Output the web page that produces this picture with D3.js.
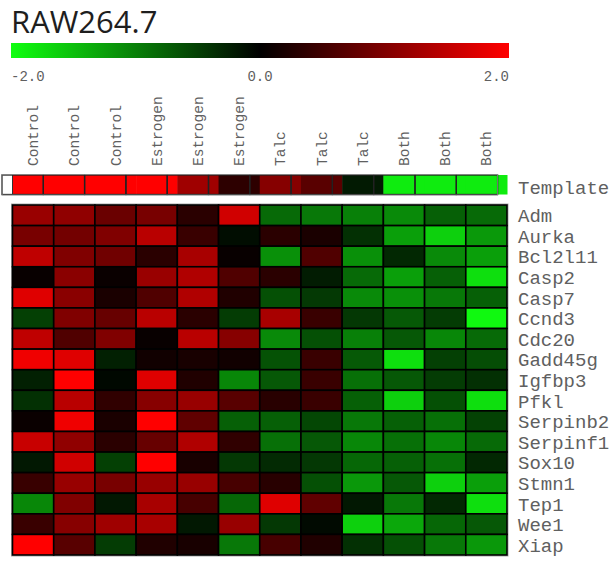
<!DOCTYPE html>
<html>
<head>
<meta charset="utf-8">
<script src="https://cdn.jsdelivr.net/npm/d3@7"></script>
<style>
  html, body { margin: 0; padding: 0; background: #fff; }
  svg { display: block; }
</style>
</head>
<body>
<svg id="chart" width="616" height="563"></svg>
<script>
// Sample groups (columns) and genes (rows)
const samples = ["Control", "Control", "Control", "Estrogen", "Estrogen", "Estrogen",
                 "Talc", "Talc", "Talc", "Both", "Both", "Both"];
const genes = ["Adm", "Aurka", "Bcl2l11", "Casp2", "Casp7", "Ccnd3", "Cdc20", "Gadd45g",
               "Igfbp3", "Pfkl", "Serpinb2", "Serpinf1", "Sox10", "Stmn1", "Tep1", "Wee1", "Xiap"];

// Template profile across the samples
const template = [2.0, 2.0, 2.0, 2.0, 1.25, 0.35, 1.05, 0.7, -0.2, -1.85, -1.85, -1.85];

// Log-ratio expression per gene (rows follow `genes`, columns follow `samples`)
const expression = [
  [1.2, 1.13, 0.83, 0.94, 0.33, 1.63, -0.83, -0.94, -1.0, -1.08, -0.75, -0.83],
  [0.94, 0.9, 1.0, 1.45, 0.45, -0.1, 0.33, 0.2, -0.38, -1.25, -1.63, -1.2],
  [1.5, 1.0, 0.88, 0.33, 1.32, 0.06, -1.13, 0.63, -1.13, -0.31, -1.08, -1.25],
  [0.06, 1.08, 0.08, 1.2, 1.38, 0.63, 0.33, -0.22, -0.83, -1.25, -0.75, -1.75],
  [1.75, 1.08, 0.2, 0.63, 1.38, 0.25, -0.63, -0.45, -1.08, -1.13, -0.94, -0.75],
  [-0.5, 1.0, 0.81, 1.45, 0.33, -0.47, 1.32, 0.45, -0.44, -0.7, -0.47, -1.95],
  [1.5, 0.63, 1.0, 0.06, 1.45, 1.06, -1.08, -0.63, -1.0, -0.69, -1.06, -0.83],
  [1.88, 1.75, -0.25, 0.13, 0.19, 0.13, -0.64, 0.45, -0.7, -1.75, -0.5, -0.6],
  [-0.25, 2.0, -0.06, 1.75, 0.25, -1.06, -0.69, 0.45, -0.88, -0.69, -0.47, -0.38],
  [-0.38, 1.45, 0.38, 1.06, 1.19, 0.69, 0.31, 0.45, -0.75, -1.63, -0.63, -1.75],
  [0.08, 1.88, 0.2, 2.0, 0.75, -0.75, -0.75, -0.56, -0.94, -0.75, -0.88, -0.52],
  [1.57, 1.13, 0.33, 0.81, 1.38, 0.38, -0.88, -0.69, -1.06, -0.88, -1.06, -0.83],
  [-0.19, 1.63, -0.5, 2.0, 0.19, -0.44, -0.33, -0.44, -0.81, -0.75, -0.88, -0.31],
  [0.44, 1.19, 0.94, 1.19, 1.19, 0.56, 0.31, -0.63, -1.19, -0.69, -1.63, -1.25],
  [-1.06, 1.0, -0.19, 1.32, 0.56, -0.81, 1.75, 0.75, -0.19, -0.94, -0.31, -1.75],
  [0.45, 1.06, 1.25, 1.32, -0.19, 1.19, -0.44, -0.08, -1.63, -1.32, -0.81, -0.69],
  [2.0, 0.69, -0.47, 0.25, 0.19, -0.94, 0.56, 0.25, -0.38, -0.63, -0.94, -1.19]
];

// Colour key
const keyDomain = [-2, 0, 2];
const keyLabels = ["-2.0", "0.0", "2.0"];
const title = "RAW264.7";
const templateLabel = "Template";

const svg = d3.select("#chart");
const mono = "'Liberation Mono', 'DejaVu Sans Mono', monospace";
const labelColor = "#606060";

const color = d3.scaleLinear()
  .domain(keyDomain)
  .range(["#10ff10", "#000000", "#ff0000"])
  .clamp(true);

const cols = d3.range(samples.length);
const x = d3.scaleBand().domain(cols).range([12.5, 507]);
const y = d3.scaleBand().domain(genes).range([205, 555]);

// Title
svg.append("text")
  .attr("x", 11).attr("y", 33)
  .attr("font-family", "'Open Sans', 'Noto Sans', sans-serif")
  .attr("font-size", 31)
  .attr("fill", "#1e1e1e")
  .text(title);

// Colour bar
const grad = svg.append("defs").append("linearGradient")
  .attr("id", "keyGrad").attr("x1", "0%").attr("x2", "100%");
keyDomain.forEach((v, i) => {
  grad.append("stop")
    .attr("offset", (i / (keyDomain.length - 1) * 100) + "%")
    .attr("stop-color", color(v));
});
const keyX = d3.scaleLinear().domain([keyDomain[0], keyDomain[2]]).range([11, 509]);
svg.append("rect")
  .attr("x", keyX(-2)).attr("y", 43)
  .attr("width", keyX(2) - keyX(-2)).attr("height", 15)
  .attr("fill", "url(#keyGrad)");
svg.append("g").selectAll("text")
  .data(keyDomain)
  .join("text")
  .attr("x", d => keyX(d))
  .attr("y", 81)
  .attr("text-anchor", (d, i) => i === 0 ? "start" : (i === keyDomain.length - 1 ? "end" : "middle"))
  .attr("font-family", mono)
  .attr("font-size", 14)
  .attr("fill", labelColor)
  .text((d, i) => keyLabels[i]);

// Column labels (vertical)
svg.append("g").selectAll("text")
  .data(cols)
  .join("text")
  .attr("transform", i => `translate(${x(i) + x.bandwidth() / 2},166) rotate(-90)`)
  .attr("dy", "0.35em")
  .attr("font-family", mono)
  .attr("font-size", 14.5)
  .attr("fill", labelColor)
  .text(i => samples[i]);

// Template strip: coloured fill per sample, outlined boxes drawn on top
const tTop = 175, tH = 19.5;
const tg = svg.append("g");
tg.selectAll("rect.fill")
  .data(cols)
  .join("rect")
  .attr("class", "fill")
  .attr("x", i => x(i))
  .attr("y", tTop)
  .attr("width", x.bandwidth() + 0.5)
  .attr("height", tH)
  .attr("fill", i => color(template[i]));
tg.append("line")
  .attr("x1", x(0)).attr("x2", x(0))
  .attr("y1", tTop).attr("y2", tTop + tH)
  .attr("stroke", "#333").attr("stroke-width", 1);
const box = d3.scaleBand().domain(cols).range([2, 497.6]);
tg.selectAll("rect.box")
  .data(cols)
  .join("rect")
  .attr("class", "box")
  .attr("x", i => box(i))
  .attr("y", tTop)
  .attr("width", box.bandwidth())
  .attr("height", tH)
  .attr("fill", "none")
  .attr("stroke", "#222")
  .attr("stroke-width", 1.3);
tg.append("rect")
  .attr("x", 2).attr("y", tTop - 0.5)
  .attr("width", 495.6).attr("height", tH + 1)
  .attr("fill", "none")
  .attr("stroke", "#888")
  .attr("stroke-width", 0.8);
svg.append("text")
  .attr("x", 518).attr("y", 194)
  .attr("font-family", mono)
  .attr("font-size", 19)
  .attr("fill", labelColor)
  .text(templateLabel);

// Heatmap
svg.append("rect")
  .attr("x", x.range()[0] - 1).attr("y", y.range()[0] - 1)
  .attr("width", x.range()[1] - x.range()[0] + 2)
  .attr("height", y.range()[1] - y.range()[0] + 2)
  .attr("fill", "none")
  .attr("stroke", "#aaa")
  .attr("stroke-width", 1);

const cells = [];
expression.forEach((row, r) => row.forEach((v, c) => cells.push({ gene: genes[r], col: c, v })));
svg.append("g").selectAll("rect")
  .data(cells)
  .join("rect")
  .attr("x", d => x(d.col))
  .attr("y", d => y(d.gene))
  .attr("width", x.bandwidth())
  .attr("height", y.bandwidth())
  .attr("fill", d => color(d.v))
  .attr("stroke", "#000")
  .attr("stroke-width", 1.6);

// Row labels
svg.append("g").selectAll("text")
  .data(genes)
  .join("text")
  .attr("x", 518)
  .attr("y", g => y(g) + y.bandwidth() / 2 + 7)
  .attr("font-family", mono)
  .attr("font-size", 19)
  .attr("fill", labelColor)
  .text(g => g);
</script>
</body>
</html>
